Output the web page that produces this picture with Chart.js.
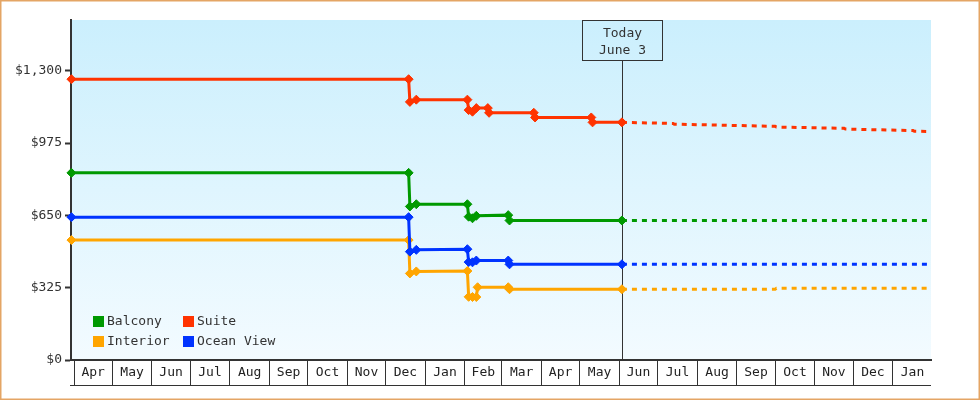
<!DOCTYPE html>
<html>
<head>
<meta charset="utf-8">
<title>Cabin prices</title>
<script src="https://cdn.jsdelivr.net/npm/chart.js@4.4.1/dist/chart.umd.min.js"></script>
<style>
  html, body { margin: 0; padding: 0; background: #fff; }
  #wrap { width: 980px; height: 400px; }
</style>
</head>
<body>
<div id="wrap"><canvas id="chart" width="980" height="400"></canvas></div>
<script>
const FONT = '"DejaVu Sans Mono", "Liberation Mono", monospace';
const START = Date.UTC(2011, 3, 1);
const dayOf = s => (Date.UTC(+s.slice(0, 4), +s.slice(5, 7) - 1, +s.slice(8, 10)) - START) / 864e5;

const TODAY = '2012-06-03';
const X_MIN = -2.35;            // axis starts a couple of days before Apr 1
const X_END = '2013-01-31';

const monthLabels = ['Apr', 'May', 'Jun', 'Jul', 'Aug', 'Sep', 'Oct', 'Nov', 'Dec', 'Jan', 'Feb',
                     'Mar', 'Apr', 'May', 'Jun', 'Jul', 'Aug', 'Sep', 'Oct', 'Nov', 'Dec', 'Jan'];
const yTicks = [0, 325, 650, 975, 1300];
const legendOrder = ['Balcony', 'Suite', 'Interior', 'Ocean View'];

const balconyDates = ['2011-03-30', '2011-12-19', '2011-12-20', '2011-12-25', '2012-02-03', '2012-02-04',
                      '2012-02-07', '2012-02-10', '2012-03-06', '2012-03-07', '2012-06-03', '2013-01-31'];
const balconyPrices = [841, 841, 690, 700, 700, 644, 637, 648, 651, 627, 627, 627];

const suiteDates = ['2011-03-30', '2011-12-19', '2011-12-20', '2011-12-25', '2012-02-03', '2012-02-04',
                    '2012-02-07', '2012-02-10', '2012-02-19', '2012-02-20', '2012-03-26', '2012-03-27',
                    '2012-05-10', '2012-05-11', '2012-06-03', '2012-07-13', '2012-07-14', '2012-10-01',
                    '2012-10-02', '2012-11-24', '2012-11-25', '2013-01-17', '2013-01-18', '2013-01-31'];
const suitePrices = [1262, 1262, 1160, 1170, 1170, 1123, 1116, 1132, 1132, 1111, 1111, 1090,
                     1090, 1068, 1068, 1063, 1060, 1050, 1047, 1041, 1038, 1031, 1028, 1027];

const interiorDates = ['2011-03-30', '2011-12-19', '2011-12-20', '2011-12-25', '2012-02-03', '2012-02-04',
                       '2012-02-07', '2012-02-10', '2012-02-11', '2012-03-06', '2012-03-07', '2012-06-03',
                       '2012-10-01', '2012-10-02', '2013-01-31'];
const interiorPrices = [539, 539, 389, 398, 400, 284, 283, 283, 327, 327, 318, 318, 318, 322, 322];

const oceanDates = ['2011-03-30', '2011-12-19', '2011-12-20', '2011-12-25', '2012-02-03', '2012-02-04',
                    '2012-02-07', '2012-02-10', '2012-03-06', '2012-03-07', '2012-06-03', '2013-01-31'];
const oceanPrices = [642, 642, 487, 495, 498, 440, 439, 447, 447, 430, 430, 430];

const todayDay = dayOf(TODAY);

// month boundaries and mid points, alternating: boundary, mid, boundary, mid ...
const xTicks = [];
monthLabels.forEach((m, i) => {
  const a = (Date.UTC(2011, 3 + i, 1) - START) / 864e5;
  const b = (Date.UTC(2011, 4 + i, 1) - START) / 864e5;
  xTicks.push(a, (a + b) / 2);
});

const points = (dates, prices) => dates.map((d, i) => ({ x: dayOf(d), y: prices[i] }));

const series = (label, color, dates, prices) => ({
  label,
  data: points(dates, prices),
  borderColor: color,
  backgroundColor: color,
  borderWidth: 3,
  pointStyle: 'rectRot',
  pointRadius: ctx => (ctx.raw && ctx.raw.x > todayDay ? 0 : 4.5),
  pointBorderWidth: 1,
  pointBorderColor: color,
  tension: 0,
  clip: 10,
  segment: {
    borderDash: ctx => (ctx.p0.parsed.x >= todayDay ? [5, 5] : undefined)
  }
});

const backdrop = {
  id: 'backdrop',
  beforeDraw(chart) {
    const { ctx, chartArea: a } = chart;
    ctx.save();
    ctx.fillStyle = '#fff';
    ctx.fillRect(0, 0, chart.width, chart.height);
    const g = ctx.createLinearGradient(0, a.top, 0, a.bottom);
    g.addColorStop(0, '#cbeffd');
    g.addColorStop(1, '#f3fbff');
    ctx.fillStyle = g;
    ctx.fillRect(a.left, a.top, a.right - a.left, a.bottom - a.top);
    ctx.restore();
  },
  afterDraw(chart) {
    const { ctx, chartArea: a } = chart;
    ctx.save();
    ctx.strokeStyle = '#333';
    ctx.lineWidth = 1;
    ctx.beginPath();
    ctx.moveTo(a.left - 1, a.bottom + 25.5);
    ctx.lineTo(a.right, a.bottom + 25.5);
    ctx.stroke();
    ctx.strokeStyle = '#e4a565';
    ctx.lineWidth = 1.5;
    ctx.strokeRect(0.75, 0.75, chart.width - 1.5, chart.height - 1.5);
    ctx.restore();
  }
};

const todayMarker = {
  id: 'todayMarker',
  beforeDatasetsDraw(chart) {
    const { ctx, chartArea: a, scales: { x } } = chart;
    const px = Math.round(x.getPixelForValue(todayDay)) + 0.5;
    const boxW = 80, boxH = 40;
    ctx.save();
    ctx.strokeStyle = '#333';
    ctx.lineWidth = 1;
    ctx.beginPath();
    ctx.moveTo(px, a.top + boxH);
    ctx.lineTo(px, a.bottom);
    ctx.stroke();
    ctx.strokeRect(px - boxW / 2, a.top + 0.5, boxW, boxH);
    ctx.fillStyle = '#333';
    ctx.font = '13px ' + FONT;
    ctx.textAlign = 'center';
    ctx.textBaseline = 'middle';
    ctx.fillText('Today', px, a.top + 13.5);
    ctx.fillText('June 3', px, a.top + 30.5);
    ctx.restore();
  }
};

const cornerLegend = {
  id: 'cornerLegend',
  afterDatasetsDraw(chart) {
    const { ctx, chartArea: a } = chart;
    ctx.save();
    ctx.font = '13px ' + FONT;
    ctx.textAlign = 'left';
    ctx.textBaseline = 'middle';
    legendOrder.forEach((name, i) => {
      const ds = chart.data.datasets.find(d => d.label === name);
      const x = a.left + 22 + (i % 2) * 90;
      const y = a.bottom - 44 + Math.floor(i / 2) * 20;
      ctx.fillStyle = ds.borderColor;
      ctx.fillRect(x, y, 11, 11);
      ctx.fillStyle = '#333';
      ctx.fillText(name, x + 14, y + 6);
    });
    ctx.restore();
  }
};

new Chart(document.getElementById('chart'), {
  type: 'line',
  data: {
    // ocean view before interior so blue is drawn over orange
    datasets: [
      series('Balcony', '#009900', balconyDates, balconyPrices),
      series('Suite', '#ff3300', suiteDates, suitePrices),
      series('Ocean View', '#0033ff', oceanDates, oceanPrices),
      series('Interior', '#ffa500', interiorDates, interiorPrices)
    ]
  },
  options: {
    responsive: false,
    animation: false,
    events: [],
    layout: { padding: { top: 20, right: 49, left: 0, bottom: 0 } },
    plugins: { legend: { display: false }, tooltip: { enabled: false } },
    scales: {
      x: {
        type: 'linear',
        min: X_MIN,
        max: dayOf(X_END),
        afterBuildTicks: s => { s.ticks = xTicks.map(v => ({ value: v })); },
        afterFit: s => { s.height = 40; },
        grid: {
          drawOnChartArea: false,
          tickLength: 25,
          lineWidth: 1,
          color: ctx => (ctx.index % 2 === 0 ? '#333' : 'rgba(0,0,0,0)')
        },
        border: { display: true, color: '#333', width: 2 },
        ticks: {
          autoSkip: false,
          maxRotation: 0,
          padding: -20,
          color: '#222',
          font: { family: FONT, size: 13 },
          callback: (v, i) => (i % 2 === 1 ? monthLabels[(i - 1) / 2] : '')
        }
      },
      y: {
        min: 0,
        max: 1528,
        afterBuildTicks: s => { s.ticks = yTicks.map(v => ({ value: v })); },
        afterFit: s => { s.width = 71; },
        grid: { drawOnChartArea: false, tickLength: 6, tickWidth: 2, tickColor: '#333' },
        border: { display: true, color: '#333', width: 2 },
        ticks: {
          padding: 3,
          color: '#333',
          font: { family: FONT, size: 13 },
          callback: v => '$' + v.toLocaleString('en-US')
        }
      }
    }
  },
  plugins: [backdrop, todayMarker, cornerLegend]
});
</script>
</body>
</html>
